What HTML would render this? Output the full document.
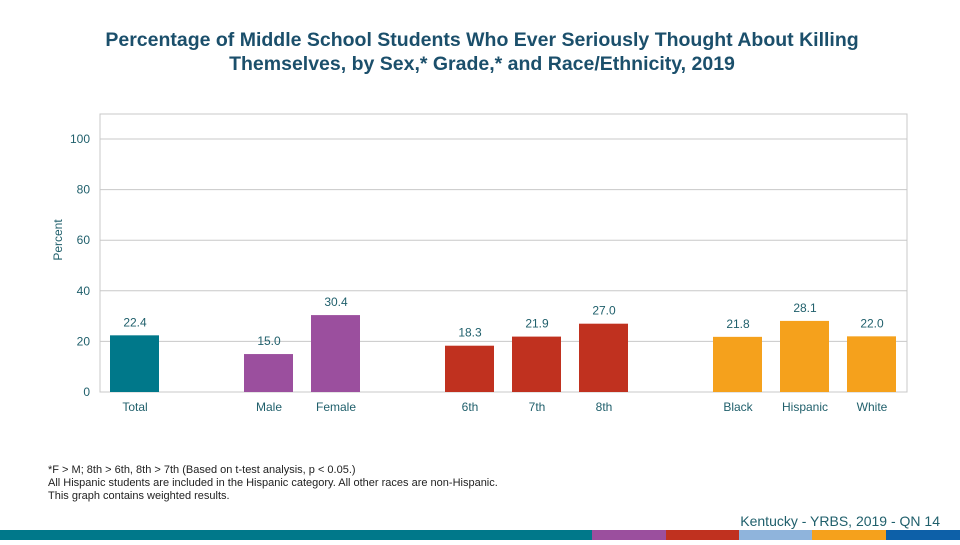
<!DOCTYPE html>
<html><head><meta charset="utf-8"><style>
body{margin:0;width:960px;height:540px;overflow:hidden;background:#fff;font-family:"Liberation Sans",sans-serif;}
</style></head><body>
<svg width="960" height="540" xmlns="http://www.w3.org/2000/svg">
<text x="482" y="46" text-anchor="middle" font-size="19.5" font-weight="bold" fill="#1b4f6b">Percentage of Middle School Students Who Ever Seriously Thought About Killing</text>
<text x="482" y="70" text-anchor="middle" font-size="19.5" font-weight="bold" fill="#1b4f6b">Themselves, by Sex,* Grade,* and Race/Ethnicity, 2019</text>
<rect x="100" y="114" width="807" height="278" fill="none" stroke="#c8c8c8"/>
<g id="grid"></g><g id="bars"></g>
<text transform="translate(62,240) rotate(-90)" text-anchor="middle" font-size="12" fill="#1f5f6b">Percent</text>
<text x="48" y="473" font-size="11" fill="#222">*F &gt; M; 8th &gt; 6th, 8th &gt; 7th (Based on t-test analysis, p &lt; 0.05.)</text>
<text x="48" y="486" font-size="11" fill="#222">All Hispanic students are included in the Hispanic category.  All other races are non-Hispanic.</text>
<text x="48" y="499" font-size="11" fill="#222">This graph contains weighted results.</text>
<text x="940" y="526" text-anchor="end" font-size="14" fill="#1f5f6b">Kentucky - YRBS, 2019 - QN 14</text>
<rect x="0" y="530" width="592" height="10" fill="#00788a"/>
<rect x="592" y="530" width="74" height="10" fill="#9b4f9e"/>
<rect x="666" y="530" width="73" height="10" fill="#c0311f"/>
<rect x="739" y="530" width="73" height="10" fill="#8fb4dc"/>
<rect x="812" y="530" width="74" height="10" fill="#f5a11c"/>
<rect x="886" y="530" width="74" height="10" fill="#0d60a8"/>
</svg>
<script>
const categories=["Total","Male","Female","6th","7th","8th","Black","Hispanic","White"];
const values=[22.4,15.0,30.4,18.3,21.9,27.0,21.8,28.1,22.0];
const slots=[0,2,3,5,6,7,9,10,11];
const colors=["#00788a","#9b4f9e","#9b4f9e","#c0311f","#c0311f","#c0311f","#f5a11c","#f5a11c","#f5a11c"];
const ticks=[0,20,40,60,80,100];
const NS="http://www.w3.org/2000/svg";
const y=v=>392-v*2.53;
const x=s=>100+s*67;
const g=document.getElementById('grid'),b=document.getElementById('bars');
function mk(t,a,p){const e=document.createElementNS(NS,t);for(const k in a)e.setAttribute(k,a[k]);p.appendChild(e);return e;}
ticks.forEach(t=>{
 const l=mk('line',{x1:100,x2:907,y1:y(t),y2:y(t),stroke:'#c8c8c8'},g);
 
 
 const tx=mk('text',{x:90,y:y(t)+4,'text-anchor':'end','font-size':12,fill:'#1f5f6b'},g);
 tx.textContent=t;
 
 
});
categories.forEach((c,i)=>{
 const bx=x(slots[i])+10;
 const r=mk('rect',{x:bx,y:y(values[i]),width:49,height:values[i]*2.53,fill:colors[i]},b);
 
 
 const v=mk('text',{x:bx+25,y:y(values[i])-9,'text-anchor':'middle','font-size':12,fill:'#1f5f6b'},b);
 v.textContent=values[i].toFixed(1);
 
 
 const cl=mk('text',{x:bx+25,y:411,'text-anchor':'middle','font-size':12,fill:'#1f5f6b'},b);
 cl.textContent=c;
 
 
});
</script>
</body></html>
